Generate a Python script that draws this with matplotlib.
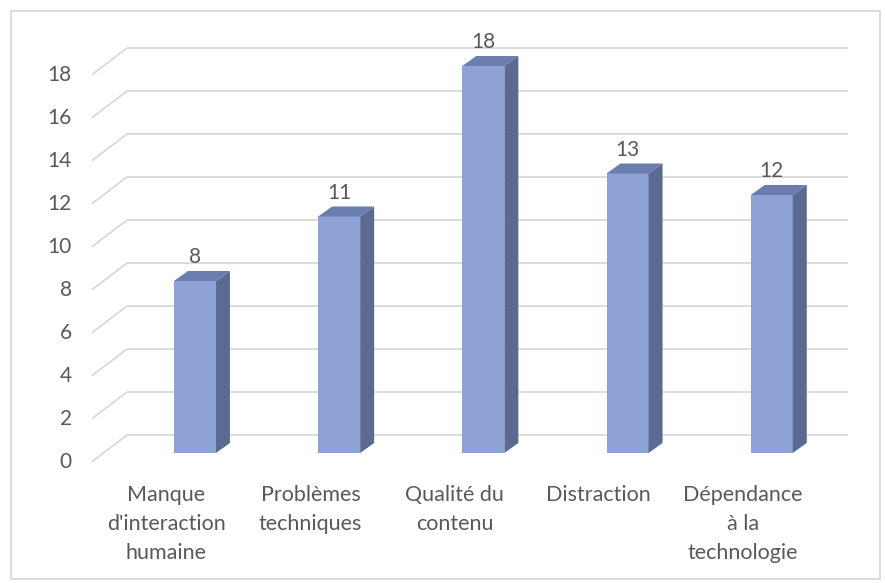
import numpy as np
import matplotlib.pyplot as plt
from matplotlib.patches import Polygon, Rectangle

# data
categories = ["Manque\nd'interaction\nhumaine", "Problèmes\ntechniques",
              "Qualité du\ncontenu", "Distraction", "Dépendance\nà la\ntechnologie"]
values = [8, 11, 18, 13, 12]
yticks = list(range(0, 20, 2))

# styles
plt.rcParams['font.family'] = ['Lato', 'DejaVu Sans']
text_col = '#595959'
grid_col = '#D9D9D9'
front_col = '#8FA2D5'
side_col = '#5A6A90'
top_col = '#6B7DAE'

W, H, DPI = 885, 583, 100
PX_CAT, PX_VAL = 144.2, 21.5          # pixels per category / per unit
ORIGIN_X, ORIGIN_Y = 92, 461.7        # front-left corner of the floor (pixels)

# oblique "3d" offsets in data units
wall_dx, wall_dy = 35 / PX_CAT, 26.7 / PX_VAL
bar_dx, bar_dy = 14 / PX_CAT, 10 / PX_VAL
bar_w = 42 / PX_CAT
bar_shift = 0.214          # bars sit a bit right of the category centre
bar_base = 0.405           # front face sits inside the floor depth

fig = plt.figure(figsize=(W / DPI, H / DPI), dpi=DPI)
ax = fig.add_axes([0, 0, 1, 1])
x_left = -0.5 - ORIGIN_X / PX_CAT
y_top = ORIGIN_Y / PX_VAL
ax.set_xlim(x_left, x_left + W / PX_CAT)
ax.set_ylim(y_top - H / PX_VAL, y_top)
ax.axis('off')

# back wall gridlines with the diagonal floor part
n = len(categories)
for v in yticks:
    xs = [-0.5, -0.5 + wall_dx, n - 0.5 + wall_dx]
    ys = [v, v + wall_dy, v + wall_dy]
    ax.plot(xs, ys, color=grid_col, lw=1.3, zorder=1, solid_capstyle='butt')
    ax.text(-0.5 - 20.3 / PX_CAT, v, str(v), ha='right', va='center',
            fontsize=15, color=text_col)

# bars
for i, val in enumerate(values):
    c = i + bar_shift
    l, r = c - bar_w / 2, c + bar_w / 2
    b, t = bar_base, bar_base + val
    ax.add_patch(Rectangle((l, b), bar_w, val, facecolor=front_col,
                           edgecolor='none', zorder=3))
    ax.add_patch(Polygon([(r, b), (r + bar_dx, b + bar_dy),
                          (r + bar_dx, t + bar_dy), (r, t)],
                         closed=True, facecolor=side_col, edgecolor='none', zorder=3))
    ax.add_patch(Polygon([(l, t), (r, t), (r + bar_dx, t + bar_dy),
                          (l + bar_dx, t + bar_dy)],
                         closed=True, facecolor=top_col, edgecolor='none', zorder=3))
    ax.text(c, t + bar_dy + 0.37, str(val), ha='center', va='baseline',
            fontsize=15, color=text_col, zorder=4)

# category labels
for i, lab in enumerate(categories):
    ax.text(i + 0.015, -1.08, lab, ha='center', va='top', fontsize=15.5,
            color=text_col, linespacing=1.55)

# chart border
fig.patches.append(Rectangle((10.5 / W, 1 - 578.5 / H), 869 / W, 568 / H,
                             transform=fig.transFigure, fill=False,
                             edgecolor=grid_col, lw=1.3))

fig.savefig('out.png', dpi=DPI, facecolor='white')
